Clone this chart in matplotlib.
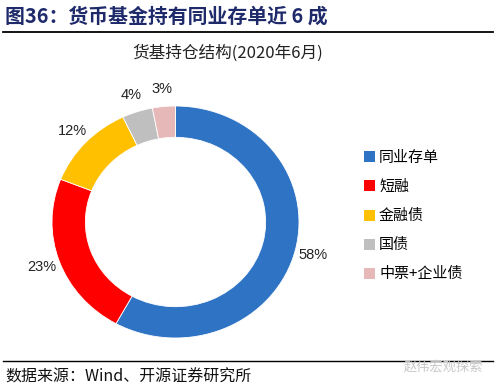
import matplotlib
matplotlib.use("Agg")
import matplotlib.pyplot as plt
from matplotlib.lines import Line2D
from matplotlib.patches import Patch

plt.rcParams['font.family'] = ['Noto Sans CJK SC', 'DejaVu Sans']

categories = ['同业存单', '短融', '金融债', '国债', '中票+企业债']
values = [58, 23, 12, 4, 3]
colors = ['#2F73C4', '#FF0000', '#FFC000', '#BFBFBF', '#E6B8B7']

W, H = 498, 390
fig = plt.figure(figsize=(W / 100, H / 100), dpi=100)
fig.patch.set_facecolor('white')

def fx(px):
    return px / W

def fy(py):
    return 1 - py / H

# Title
fig.text(fx(5), fy(16), '图36：货币基金持有同业存单近 6 成', fontsize=14.3,
         fontweight='bold', color='#1F2A6B', ha='left', va='center')
fig.add_artist(Line2D([fx(3), fx(493)], [fy(32), fy(32)], color='black', lw=1.3))

# Subtitle
fig.text(fx(228), fy(53), '货基持仓结构(2020年6月)', fontsize=12,
         color='#222222', ha='center', va='center')

# Donut
cx, cy, rx, ry = 175.5, 222, 123.5, 116
ax = fig.add_axes([fx(cx - rx), fy(cy + ry), 2 * rx / W, 2 * ry / H])
wedges, texts, autotexts = ax.pie(
    values, colors=colors, startangle=90, counterclock=False,
    radius=1.0, wedgeprops=dict(width=0.27, edgecolor='white', linewidth=0.6),
    autopct='%d%%', pctdistance=1.15)
for t in autotexts:
    t.set_fontfamily(['Liberation Sans', 'DejaVu Sans'])
    t.set_fontsize(10.5)
    t.set_color('#222222')
ax.set_aspect('auto')
ax.set_xlim(-1, 1)
ax.set_ylim(-1, 1)
ax.axis('off')

# Legend
handles = [Patch(facecolor=c, edgecolor='none') for c in colors]
leg = fig.legend(handles, categories, loc='upper left',
                 bbox_to_anchor=(fx(364), fy(151)), frameon=False,
                 fontsize=10.8, handlelength=0.75, handleheight=0.75,
                 handletextpad=0.25, labelspacing=1.0, borderaxespad=0,
                 borderpad=0)

# Footer
fig.add_artist(Line2D([fx(3), fx(493)], [fy(361), fy(361)], color='black', lw=1.0))
fig.text(fx(5), fy(377), '数据来源：Wind、开源证券研究所', fontsize=11.5,
         color='#111111', ha='left', va='center')
fig.text(fx(483), fy(367), '赵伟宏观探索', fontsize=9.5,
         color='#C8C8C8', ha='right', va='center')

fig.savefig('out.png', dpi=100, facecolor='white')
